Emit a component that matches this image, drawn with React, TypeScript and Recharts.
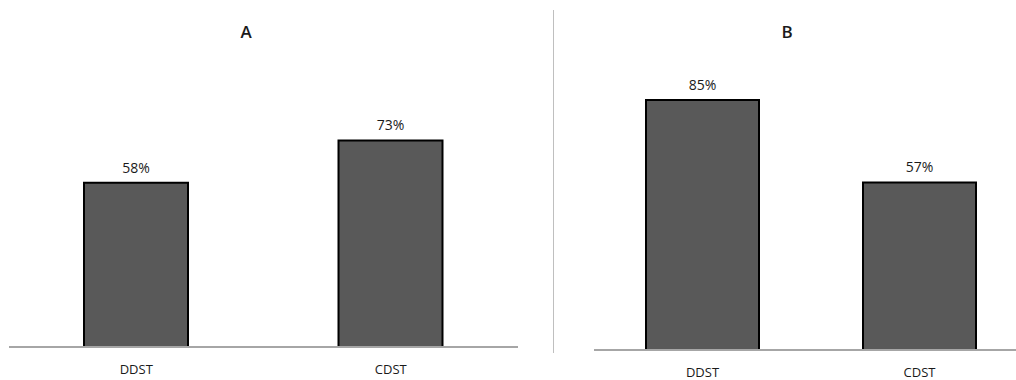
import { BarChart, Bar, XAxis, YAxis, LabelList } from "recharts"

const categories = ["DDST", "CDST"]
const seriesA = [58, 73]
const seriesB = [85, 57]

const dataA = categories.map((name, i) => ({ name, value: seriesA[i] }))
const dataB = categories.map((name, i) => ({ name, value: seriesB[i] }))

const font = "'Open Sans', 'Liberation Sans', sans-serif"

function Panel({
  data,
  left,
  width,
  margin,
  axisHeight,
  barSize,
}: {
  data: { name: string; value: number }[]
  left: number
  width: number
  margin: { top: number; right: number; bottom: number; left: number }
  axisHeight: number
  barSize: number
}) {
  return (
    <div style={{ position: "absolute", left, top: 0 }}>
      <BarChart width={width} height={380} data={data} margin={margin}>
        <XAxis
          dataKey="name"
          axisLine={{ stroke: "#a6a6a6", strokeWidth: 2 }}
          tickLine={false}
          tickMargin={12}
          height={axisHeight}
          tick={{ fill: "#1a1a1a", fontSize: 13, fontFamily: font }}
        />
        <YAxis hide domain={[0, 100]} />
        <Bar dataKey="value" fill="#595959" stroke="#000" strokeWidth={2} barSize={barSize} isAnimationActive={false}>
          <LabelList
            dataKey="value"
            position="top"
            offset={10}
            formatter={(v: any) => `${v}%`}
            style={{ fill: "#1a1a1a", fontSize: 14, fontFamily: font }}
          />
        </Bar>
      </BarChart>
    </div>
  )
}

export default function App() {
  return (
    <div style={{ position: "absolute", left: 0, top: 0, width: 1016, height: 380, overflow: "hidden", background: "#fff" }}>
      <Panel data={dataA} left={0} width={530} margin={{ top: 64, right: 12, bottom: 3, left: 9 }} axisHeight={30} barSize={104} />
      <Panel data={dataB} left={560} width={480} margin={{ top: 56, right: 12, bottom: 3, left: 34 }} axisHeight={27} barSize={113} />
      <div style={{ position: "absolute", left: 553, top: 10, width: 1, height: 343, background: "#bfbfbf" }} />
      <div style={{ position: "absolute", left: 196, width: 100, top: 20, textAlign: "center", fontFamily: font, fontSize: 17, fontWeight: 600, color: "#1a1a1a" }}>A</div>
      <div style={{ position: "absolute", left: 737, width: 100, top: 20, textAlign: "center", fontFamily: font, fontSize: 17, fontWeight: 600, color: "#1a1a1a" }}>B</div>
    </div>
  )
}
